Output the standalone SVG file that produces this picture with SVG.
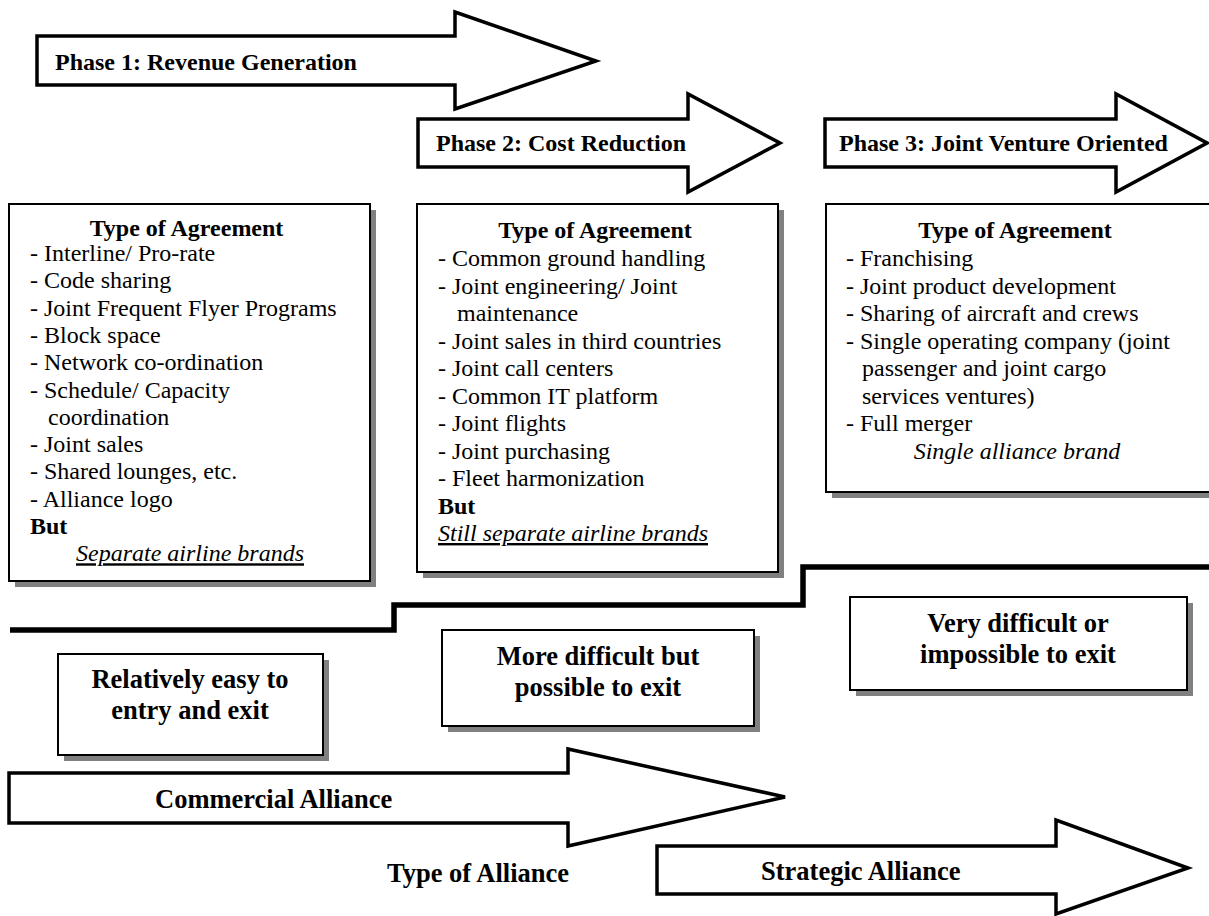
<svg xmlns="http://www.w3.org/2000/svg" width="1209" height="916" viewBox="0 0 1209 916">
<style>
.arrow{fill:#fff;stroke:#000;stroke-width:3.5;stroke-linejoin:miter}
.box{fill:#fff;stroke:#000;stroke-width:2}
.shadow{fill:#808080}
.t{font-family:"Liberation Serif","Times New Roman",serif;fill:#000}
.b{font-weight:bold}
.ph{font-size:24px;font-weight:bold}
.lb{font-size:26.5px;font-weight:bold}
.item{font-size:24px}
.it{font-style:italic}
.u{text-decoration:underline}
.step{fill:none;stroke:#000;stroke-width:5.5;stroke-linejoin:miter}
</style>
<rect width="1209" height="916" fill="#fff"/>

<g id="phase1">
<polygon class="arrow" points="37,36 455,36 455,12 596,61 455,109 455,85 37,85"/>
<text class="t ph" x="55" y="70">Phase 1: Revenue Generation</text>
</g>
<g id="phase2">
<polygon class="arrow" points="418,119 688,119 688,94 780,143 688,192 688,167 418,167"/>
<text class="t ph" x="436" y="151">Phase 2: Cost Reduction</text>
</g>
<g id="phase3">
<polygon class="arrow" points="825,119 1116,119 1116,94 1207,143 1116,192 1116,167 825,167"/>
<text class="t ph" x="839" y="151">Phase 3: Joint Venture Oriented</text>
</g>

<g id="box1">
<rect class="shadow" x="15" y="210" width="361" height="377"/>
<rect class="box" x="9" y="204" width="361" height="377"/>
<text class="t item">
<tspan class="b" x="189.5" y="236" text-anchor="middle">Type of Agreement</tspan>
<tspan x="30" y="261">- Interline/ Pro-rate</tspan>
<tspan x="30" y="288.3">- Code sharing</tspan>
<tspan x="30" y="315.6">- Joint Frequent Flyer Programs</tspan>
<tspan x="30" y="342.9">- Block space</tspan>
<tspan x="30" y="370.2">- Network co-ordination</tspan>
<tspan x="30" y="397.5">- Schedule/ Capacity</tspan>
<tspan x="48" y="424.8">coordination</tspan>
<tspan x="30" y="452.1">- Joint sales</tspan>
<tspan x="30" y="479.4">- Shared lounges, etc.</tspan>
<tspan x="30" y="506.7">- Alliance logo</tspan>
<tspan class="b" x="30" y="534">But</tspan>
</text>
<text class="t item it u" x="190" y="561.3" text-anchor="middle">Separate airline brands</text>
</g>

<g id="box2">
<rect class="shadow" x="423" y="210" width="361" height="368"/>
<rect class="box" x="417" y="204" width="361" height="368"/>
<text class="t item">
<tspan class="b" x="598" y="238" text-anchor="middle">Type of Agreement</tspan>
<tspan x="438" y="266">- Common ground handling</tspan>
<tspan x="438" y="293.5">- Joint engineering/ Joint</tspan>
<tspan x="457" y="321">maintenance</tspan>
<tspan x="438" y="348.5">- Joint sales in third countries</tspan>
<tspan x="438" y="376">- Joint call centers</tspan>
<tspan x="438" y="403.5">- Common IT platform</tspan>
<tspan x="438" y="431">- Joint flights</tspan>
<tspan x="438" y="458.5">- Joint purchasing</tspan>
<tspan x="438" y="486">- Fleet harmonization</tspan>
<tspan class="b" x="438" y="513.5">But</tspan>
</text>
<text class="t item it u" x="438" y="541">Still separate airline brands</text>
</g>

<g id="box3">
<rect class="shadow" x="832" y="210" width="384" height="288"/>
<rect class="box" x="826" y="204" width="384" height="288"/>
<text class="t item">
<tspan class="b" x="1018" y="238" text-anchor="middle">Type of Agreement</tspan>
<tspan x="846" y="266">- Franchising</tspan>
<tspan x="846" y="293.5">- Joint product development</tspan>
<tspan x="846" y="321">- Sharing of aircraft and crews</tspan>
<tspan x="846" y="348.5">- Single operating company (joint</tspan>
<tspan x="862" y="376">passenger and joint cargo</tspan>
<tspan x="862" y="403.5">services ventures)</tspan>
<tspan x="846" y="431">- Full merger</tspan>
</text>
<text class="t item it" x="1017" y="458.5" text-anchor="middle">Single alliance brand</text>
</g>

<g id="connectors">
<polyline class="step" points="10,630 394,630 394,605 803,605 803,567 1212,567"/>
</g>

<g id="easy">
<rect class="shadow" x="64" y="660" width="265" height="101"/>
<rect class="box" x="58" y="654" width="265" height="101"/>
<text class="t lb" text-anchor="middle"><tspan x="190" y="688">Relatively easy to</tspan><tspan x="190" y="719">entry and exit</tspan></text>
</g>

<g id="moredifficult">
<rect class="shadow" x="448" y="636" width="312" height="96"/>
<rect class="box" x="442" y="630" width="312" height="96"/>
<text class="t lb" text-anchor="middle"><tspan x="598" y="665">More difficult but</tspan><tspan x="598" y="696">possible to exit</tspan></text>
</g>

<g id="verydifficult">
<rect class="shadow" x="856" y="603" width="337" height="93"/>
<rect class="box" x="850" y="597" width="337" height="93"/>
<text class="t lb" text-anchor="middle"><tspan x="1018" y="632">Very difficult or</tspan><tspan x="1018" y="663">impossible to exit</tspan></text>
</g>

<g id="commercial">
<polygon class="arrow" points="9,773 568,773 568,749 785,797 568,846 568,823 9,823"/>
<text class="t lb" x="155" y="808">Commercial Alliance</text>
</g>

<g id="typeofalliance">
<text class="t lb" x="387" y="882">Type of Alliance</text>
</g>

<g id="strategic">
<polygon class="arrow" points="657,846 1056,846 1056,820 1188,868 1056,914 1056,894 657,894"/>
<text class="t lb" x="761" y="880">Strategic Alliance</text>
</g>
</svg>
